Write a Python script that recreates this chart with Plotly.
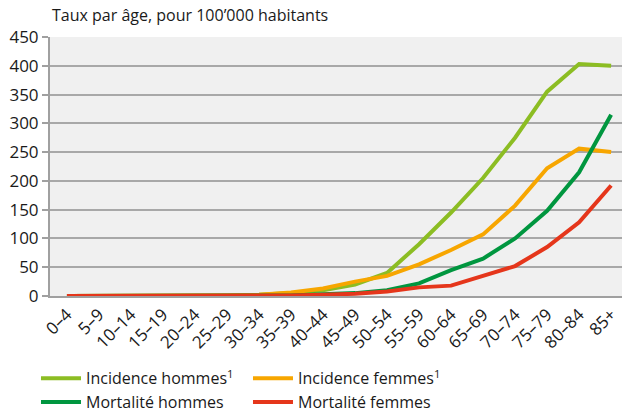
import plotly.graph_objects as go

ages = ["0–4", "5–9", "10–14", "15–19", "20–24", "25–29", "30–34", "35–39", "40–44",
        "45–49", "50–54", "55–59", "60–64", "65–69", "70–74", "75–79", "80–84", "85+"]

incidence_hommes = [0, 0, 0, 0, 1, 1, 2, 5, 10, 20, 40, 90, 145, 205, 275, 355, 403, 400]
incidence_femmes = [0, 0, 0, 0, 1, 1, 2, 6, 13, 25, 35, 55, 80, 107, 157, 222, 256, 250]
mortalite_hommes = [0, 0, 0, 0, 0, 0, 0, 1, 3, 5, 10, 22, 45, 65, 100, 148, 215, 315]
mortalite_femmes = [0, 0, 0, 0, 0, 0, 0, 1, 2, 4, 8, 15, 18, 35, 52, 85, 128, 192]

series = [
    ("Incidence hommes<sup>1</sup>", incidence_hommes, "#8cbd23"),
    ("Incidence femmes<sup>1</sup>", incidence_femmes, "#f7a600"),
    ("Mortalité hommes", mortalite_hommes, "#00963f"),
    ("Mortalité femmes", mortalite_femmes, "#e5361b"),
]

fig = go.Figure()
for name, vals, color in series:
    fig.add_trace(go.Scatter(
        x=ages, y=vals, mode="lines", name=name,
        line=dict(color=color, width=4),
    ))

fig.update_layout(
    width=622, height=413,
    font=dict(family="Open Sans", color="#1a1a1a", size=15),
    plot_bgcolor="#f0f0f0", paper_bgcolor="white",
    margin=dict(l=50, r=0, t=37, b=117, autoexpand=False),
    showlegend=True,
    legend=dict(
        orientation="h", x=-0.0245, xanchor="left", y=-0.252, yanchor="top",
        entrywidth=157, entrywidthmode="pixels", font=dict(size=16),
        itemwidth=40, bgcolor="rgba(0,0,0,0)",
    ),
    annotations=[dict(
        text="Taux par âge, pour 100’000 habitants", xref="paper", yref="paper",
        x=0.0, y=1.035, xanchor="left", yanchor="bottom", showarrow=False,
        font=dict(size=16),
    )],
)
fig.update_xaxes(
    type="category", range=[-0.53, 17.34], tickangle=-45, automargin=False,
    showgrid=False, showline=True, linecolor="#a0a0a0", linewidth=2,
    tickfont=dict(size=17), ticks="",
)
fig.update_yaxes(
    range=[0, 450], dtick=50, showgrid=True, gridcolor="#a8a8a8", gridwidth=2,
    zeroline=False, showline=True, linecolor="#a0a0a0", linewidth=2, automargin=False,
    ticks="outside", ticklen=6, tickcolor="#a0a0a0", tickwidth=2,
    tickfont=dict(size=17),
)

fig.write_html("out.html", config={"displayModeBar": False})

# drop the default page margin so the figure sits at the window's corner
with open("out.html", encoding="utf-8") as f:
    page = f.read()
page = page.replace("<body>", '<body style="margin:0">', 1)
with open("out.html", "w", encoding="utf-8") as f:
    f.write(page)
